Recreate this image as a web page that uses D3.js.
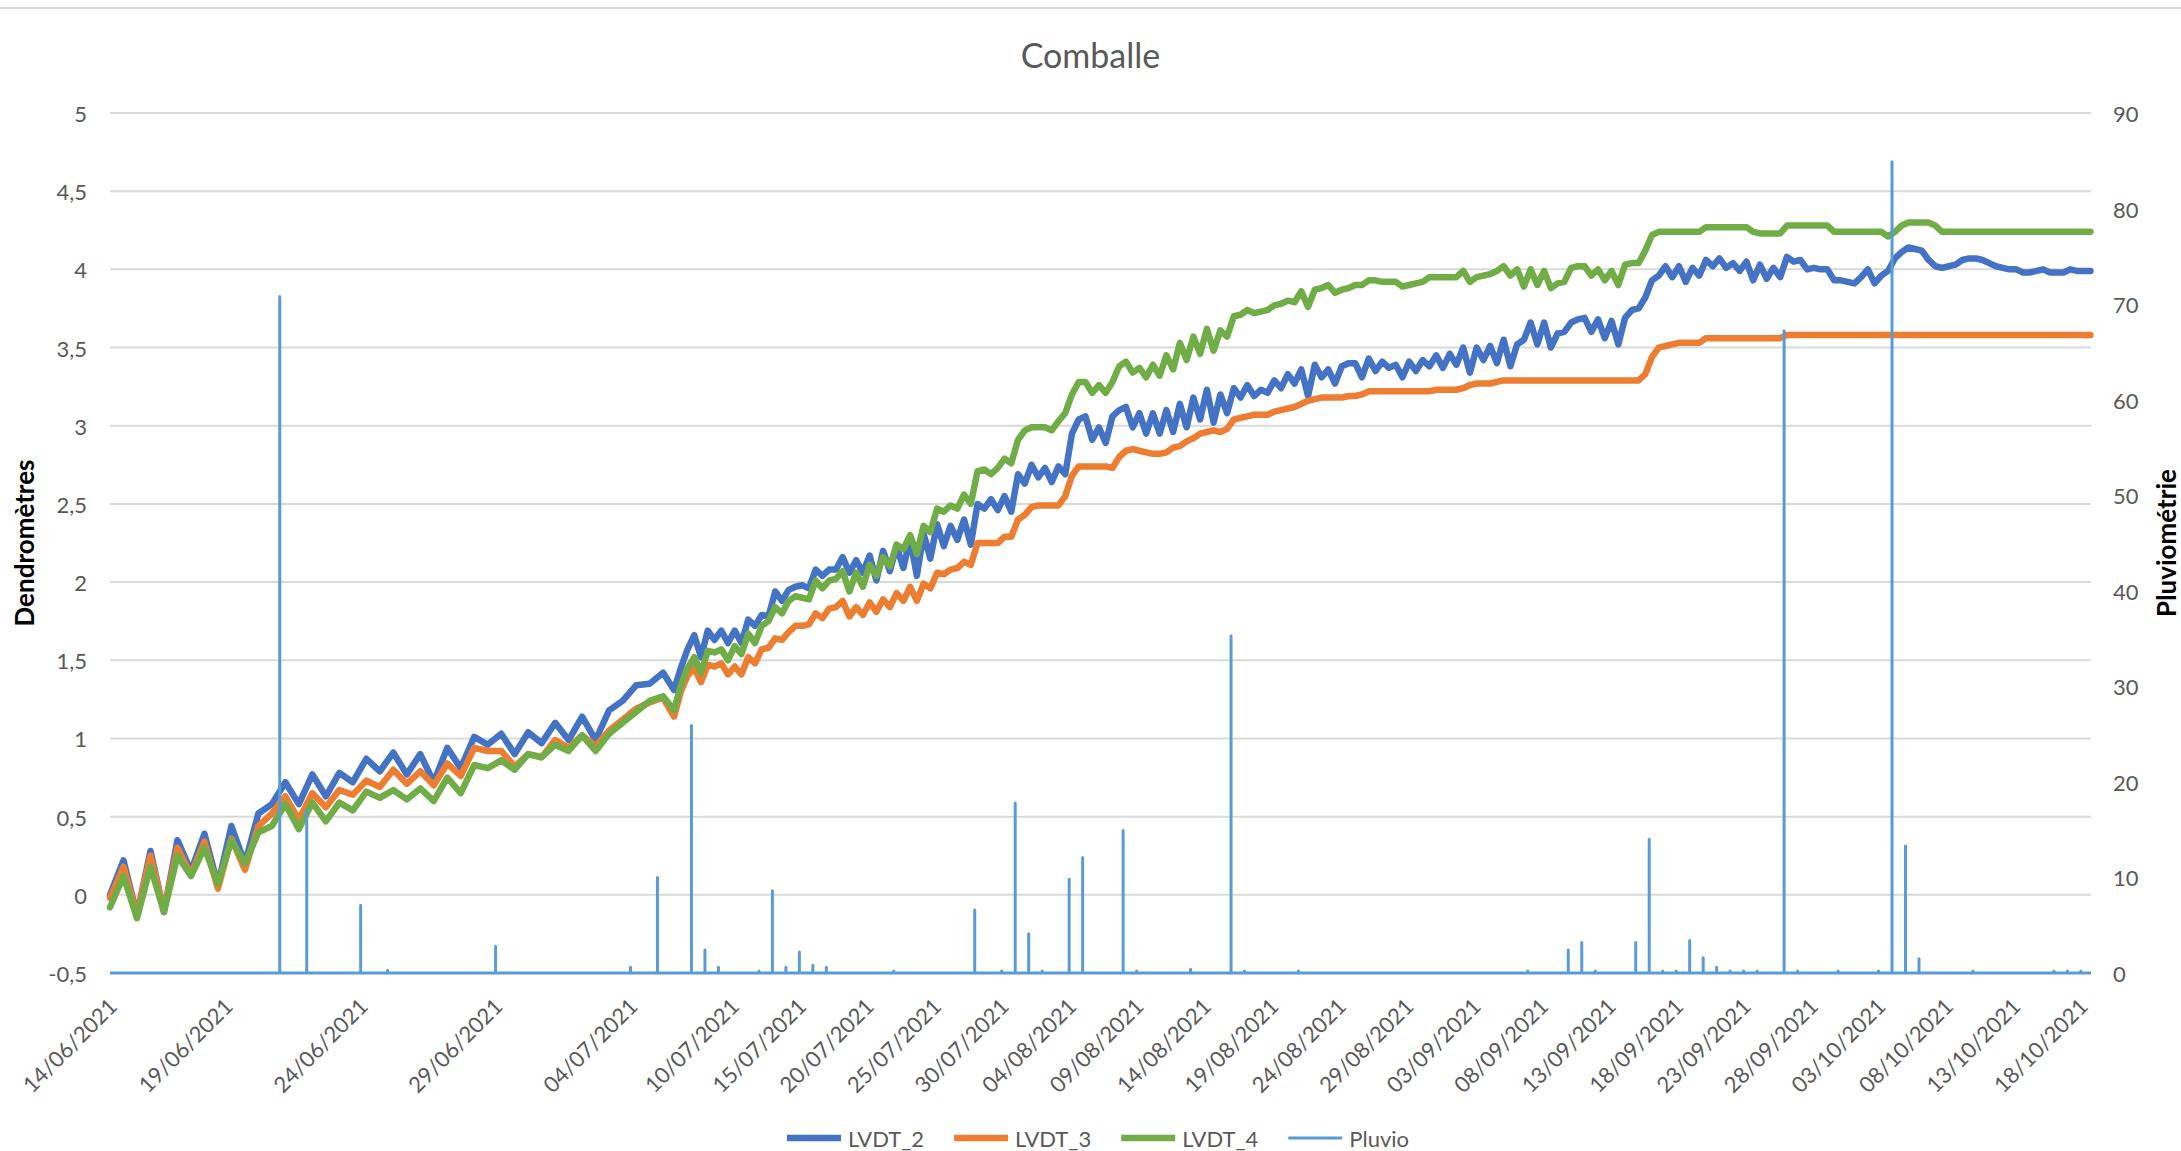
<!DOCTYPE html>
<html lang="fr">
<head>
<meta charset="utf-8">
<title>Comballe</title>
<script src="https://cdn.jsdelivr.net/npm/d3@7"></script>
<style>
  html, body { margin: 0; padding: 0; background: #fff; }
  svg { display: block; font-family: Lato, 'Noto Sans', sans-serif; }
</style>
</head>
<body>
<div id="chart"></div>
<script>
// ─── Data ────────────────────────────────────────────────────────────────
// Dendrometer readings, one value every 12 h (≈05:00 max / 17:00 min)
const sampleStart = '14/06/2021 17:00';
const sampleStepHours = 12;
// logger switched from half-hourly to hourly records: category axis gets half as wide per day
const samplingChange = '05/07/2021 12:30';
const seriesEnd = '18/10/2021 18:00';

const lvdt2 = [
  0.00, 0.22, -0.13, 0.28, -0.11, 0.35, 0.15, 0.39, 0.06, 0.44,
  0.20, 0.52, 0.58, 0.72, 0.58, 0.77, 0.63, 0.78, 0.72, 0.87,
  0.79, 0.91, 0.77, 0.90, 0.72, 0.94, 0.81, 1.01, 0.96, 1.03,
  0.90, 1.04, 0.97, 1.10, 0.99, 1.14, 0.99, 1.18, 1.24, 1.34,
  1.35, 1.42, 1.31, 1.45, 1.57, 1.66, 1.52, 1.69, 1.63, 1.69,
  1.61, 1.69, 1.61, 1.76, 1.72, 1.79, 1.78, 1.94, 1.88, 1.95,
  1.97, 1.98, 1.96, 2.08, 2.04, 2.08, 2.08, 2.16, 2.06, 2.14,
  2.06, 2.17, 2.01, 2.20, 2.07, 2.23, 2.09, 2.28, 2.04, 2.31,
  2.15, 2.37, 2.23, 2.36, 2.27, 2.40, 2.24, 2.50, 2.47, 2.53,
  2.46, 2.55, 2.45, 2.69, 2.63, 2.75, 2.67, 2.73, 2.64, 2.74,
  2.69, 2.95, 3.04, 3.06, 2.91, 2.99, 2.89, 3.06, 3.10, 3.12,
  2.99, 3.08, 2.95, 3.08, 2.95, 3.10, 2.96, 3.14, 2.99, 3.18,
  3.04, 3.23, 3.02, 3.20, 3.08, 3.24, 3.18, 3.26, 3.19, 3.23,
  3.21, 3.29, 3.24, 3.33, 3.27, 3.36, 3.19, 3.39, 3.31, 3.36,
  3.27, 3.38, 3.40, 3.40, 3.31, 3.43, 3.35, 3.41, 3.37, 3.39,
  3.31, 3.41, 3.35, 3.42, 3.38, 3.45, 3.37, 3.46, 3.39, 3.50,
  3.34, 3.50, 3.42, 3.51, 3.40, 3.55, 3.38, 3.52, 3.55, 3.66,
  3.52, 3.66, 3.50, 3.59, 3.60, 3.66, 3.68, 3.69, 3.60, 3.68,
  3.56, 3.67, 3.52, 3.69, 3.74, 3.75, 3.82, 3.93, 3.96, 4.02,
  3.95, 4.02, 3.92, 4.01, 3.96, 4.06, 4.02, 4.07, 4.01, 4.04,
  3.99, 4.05, 3.93, 4.03, 3.94, 4.01, 3.95, 4.08, 4.05, 4.06,
  4.00, 4.01, 4.00, 4.00, 3.93, 3.93, 3.92, 3.91, 3.95, 4.00,
  3.91, 3.96, 3.99, 4.07, 4.11, 4.14, 4.13, 4.12, 4.06, 4.02,
  4.01, 4.02, 4.03, 4.06, 4.07, 4.07, 4.06, 4.04, 4.02, 4.01,
  4.00, 4.00, 3.98, 3.98, 3.99, 4.00, 3.98, 3.98, 3.98, 4.00,
  3.99, 3.99, 3.99
];

const lvdt3 = [
  -0.02, 0.18, -0.13, 0.25, -0.10, 0.30, 0.13, 0.34, 0.04, 0.36,
  0.16, 0.44, 0.52, 0.63, 0.48, 0.65, 0.56, 0.67, 0.64, 0.73,
  0.69, 0.80, 0.71, 0.79, 0.70, 0.84, 0.76, 0.94, 0.92, 0.92,
  0.82, 0.90, 0.88, 0.99, 0.94, 1.02, 0.95, 1.05, 1.12, 1.19,
  1.23, 1.26, 1.14, 1.30, 1.40, 1.45, 1.36, 1.47, 1.46, 1.48,
  1.41, 1.46, 1.41, 1.52, 1.48, 1.57, 1.58, 1.64, 1.63, 1.68,
  1.72, 1.72, 1.73, 1.80, 1.77, 1.83, 1.84, 1.88, 1.78, 1.84,
  1.79, 1.87, 1.81, 1.89, 1.84, 1.93, 1.88, 1.97, 1.88, 1.99,
  1.96, 2.06, 2.05, 2.08, 2.09, 2.13, 2.11, 2.25, 2.25, 2.25,
  2.25, 2.29, 2.29, 2.40, 2.43, 2.48, 2.49, 2.49, 2.49, 2.49,
  2.55, 2.68, 2.74, 2.74, 2.74, 2.74, 2.74, 2.73, 2.80, 2.84,
  2.85, 2.84, 2.83, 2.82, 2.82, 2.83, 2.86, 2.87, 2.90, 2.92,
  2.95, 2.96, 2.97, 2.96, 2.98, 3.04, 3.05, 3.06, 3.07, 3.07,
  3.07, 3.09, 3.10, 3.11, 3.12, 3.14, 3.16, 3.17, 3.18, 3.18,
  3.18, 3.18, 3.19, 3.19, 3.20, 3.22, 3.22, 3.22, 3.22, 3.22,
  3.22, 3.22, 3.22, 3.22, 3.22, 3.23, 3.23, 3.23, 3.23, 3.24,
  3.26, 3.27, 3.27, 3.27, 3.28, 3.29, 3.29, 3.29, 3.29, 3.29,
  3.29, 3.29, 3.29, 3.29, 3.29, 3.29, 3.29, 3.29, 3.29, 3.29,
  3.29, 3.29, 3.29, 3.29, 3.29, 3.29, 3.33, 3.44, 3.50, 3.51,
  3.52, 3.53, 3.53, 3.53, 3.53, 3.56, 3.56, 3.56, 3.56, 3.56,
  3.56, 3.56, 3.56, 3.56, 3.56, 3.56, 3.56, 3.58, 3.58, 3.58,
  3.58, 3.58, 3.58, 3.58, 3.58, 3.58, 3.58, 3.58, 3.58, 3.58,
  3.58, 3.58, 3.58, 3.58, 3.58, 3.58, 3.58, 3.58, 3.58, 3.58,
  3.58, 3.58, 3.58, 3.58, 3.58, 3.58, 3.58, 3.58, 3.58, 3.58,
  3.58, 3.58, 3.58, 3.58, 3.58, 3.58, 3.58, 3.58, 3.58, 3.58,
  3.58, 3.58, 3.58
];

const lvdt4 = [
  -0.08, 0.12, -0.15, 0.18, -0.11, 0.25, 0.12, 0.30, 0.07, 0.35,
  0.20, 0.40, 0.44, 0.58, 0.42, 0.59, 0.47, 0.59, 0.54, 0.66,
  0.62, 0.67, 0.61, 0.68, 0.60, 0.75, 0.65, 0.83, 0.81, 0.86,
  0.80, 0.90, 0.88, 0.96, 0.92, 1.02, 0.92, 1.03, 1.10, 1.17,
  1.24, 1.27, 1.18, 1.34, 1.45, 1.52, 1.42, 1.56, 1.55, 1.57,
  1.50, 1.59, 1.54, 1.67, 1.61, 1.72, 1.75, 1.84, 1.80, 1.88,
  1.91, 1.90, 1.89, 2.01, 1.96, 2.01, 2.02, 2.07, 1.94, 2.06,
  1.97, 2.11, 2.04, 2.16, 2.10, 2.24, 2.21, 2.30, 2.18, 2.36,
  2.32, 2.47, 2.45, 2.49, 2.47, 2.56, 2.50, 2.71, 2.72, 2.69,
  2.73, 2.79, 2.76, 2.91, 2.97, 2.99, 2.99, 2.99, 2.97, 3.03,
  3.08, 3.20, 3.28, 3.28, 3.21, 3.26, 3.21, 3.28, 3.38, 3.41,
  3.34, 3.37, 3.31, 3.39, 3.32, 3.45, 3.36, 3.53, 3.42, 3.57,
  3.46, 3.62, 3.48, 3.61, 3.57, 3.70, 3.71, 3.74, 3.72, 3.73,
  3.74, 3.77, 3.78, 3.80, 3.79, 3.86, 3.76, 3.87, 3.88, 3.90,
  3.85, 3.87, 3.88, 3.90, 3.90, 3.93, 3.93, 3.92, 3.92, 3.92,
  3.89, 3.90, 3.91, 3.92, 3.95, 3.95, 3.95, 3.95, 3.95, 3.99,
  3.92, 3.95, 3.96, 3.97, 3.99, 4.02, 3.96, 4.00, 3.89, 4.00,
  3.90, 3.99, 3.88, 3.91, 3.92, 4.01, 4.02, 4.02, 3.96, 4.00,
  3.93, 3.99, 3.90, 4.03, 4.04, 4.04, 4.12, 4.22, 4.24, 4.24,
  4.24, 4.24, 4.24, 4.24, 4.24, 4.27, 4.27, 4.27, 4.27, 4.27,
  4.27, 4.27, 4.24, 4.23, 4.23, 4.23, 4.23, 4.28, 4.28, 4.28,
  4.28, 4.28, 4.28, 4.28, 4.24, 4.24, 4.24, 4.24, 4.24, 4.24,
  4.24, 4.24, 4.21, 4.24, 4.28, 4.30, 4.30, 4.30, 4.30, 4.28,
  4.24, 4.24, 4.24, 4.24, 4.24, 4.24, 4.24, 4.24, 4.24, 4.24,
  4.24, 4.24, 4.24, 4.24, 4.24, 4.24, 4.24, 4.24, 4.24, 4.24,
  4.24, 4.24, 4.24
];

// Daily rain (mm), booked at 00:00; all other days are 0
const pluvioDates = [
  '21/06/2021', '22/06/2021', '24/06/2021', '25/06/2021', '29/06/2021', '04/07/2021',
  '05/07/2021', '07/07/2021', '08/07/2021', '09/07/2021', '12/07/2021', '13/07/2021',
  '14/07/2021', '15/07/2021', '16/07/2021', '17/07/2021', '22/07/2021', '28/07/2021',
  '30/07/2021', '31/07/2021', '01/08/2021', '02/08/2021', '04/08/2021', '05/08/2021',
  '08/08/2021', '09/08/2021', '13/08/2021', '16/08/2021', '17/08/2021', '21/08/2021',
  '07/09/2021', '10/09/2021', '11/09/2021', '12/09/2021', '15/09/2021', '16/09/2021',
  '17/09/2021', '18/09/2021', '19/09/2021', '20/09/2021', '21/09/2021', '22/09/2021',
  '23/09/2021', '24/09/2021', '26/09/2021', '27/09/2021', '30/09/2021', '03/10/2021',
  '04/10/2021', '05/10/2021', '06/10/2021', '10/10/2021', '16/10/2021', '17/10/2021',
  '18/10/2021'
];
const pluvioMm = [
  70.8, 17.0, 7.1, 0.3, 2.8, 0.6,
  10.0, 25.9, 2.4, 0.6, 0.2, 8.6,
  0.6, 2.2, 0.8, 0.6, 0.2, 6.6,
  0.2, 17.8, 4.1, 0.2, 9.8, 12.1,
  14.9, 0.2, 0.4, 35.3, 0.2, 0.2,
  0.2, 2.4, 3.2, 0.2, 3.2, 14.0,
  0.2, 0.2, 3.4, 1.6, 0.6, 0.2,
  0.2, 0.2, 67.2, 0.2, 0.2, 0.2,
  84.9, 13.3, 1.5, 0.2, 0.2, 0.2,
  0.2
];

const xTicks = [
  '14/06/2021 17:00', '19/06/2021 00:00', '24/06/2021 00:00', '29/06/2021 00:00',
  '04/07/2021 00:00', '10/07/2021 00:00', '15/07/2021 00:00', '20/07/2021 00:00',
  '25/07/2021 00:00', '30/07/2021 00:00', '04/08/2021 00:00', '09/08/2021 00:00',
  '14/08/2021 00:00', '19/08/2021 00:00', '24/08/2021 00:00', '29/08/2021 00:00',
  '03/09/2021 00:00', '08/09/2021 00:00', '13/09/2021 00:00', '18/09/2021 00:00',
  '23/09/2021 00:00', '28/09/2021 00:00', '03/10/2021 00:00', '08/10/2021 00:00',
  '13/10/2021 00:00', '18/10/2021 00:00'
];
const yLeftTicks = [-0.5, 0, 0.5, 1, 1.5, 2, 2.5, 3, 3.5, 4, 4.5, 5];
const yRightTicks = [0, 10, 20, 30, 40, 50, 60, 70, 80, 90];

const series = [
  { name: 'LVDT_2', values: lvdt2, color: '#4472C4' },
  { name: 'LVDT_3', values: lvdt3, color: '#ED7D31' },
  { name: 'LVDT_4', values: lvdt4, color: '#70AD47' }
];
const pluvioColor = '#5B9BD5';

// ─── Layout ──────────────────────────────────────────────────────────────
const W = 2181, H = 1151;
const margin = { top: 113, right: 90, bottom: 178, left: 110 };
const plotL = margin.left, plotR = W - margin.right;
const plotT = margin.top, plotB = H - margin.bottom;
const textGrey = '#595959';
const gridGrey = '#D9D9D9';
const dendroWidth = 6.5;
const pluvioWidth = 3;

const parseTime = d3.timeParse('%d/%m/%Y %H:%M');
const parseDay = d3.timeParse('%d/%m/%Y');
const fmtDay = d3.timeFormat('%d/%m/%Y');
const fmtComma = d => String(d).replace('.', ',');

const tStart = parseTime(sampleStart);
const tSwitch = parseTime(samplingChange);
const tEnd = parseTime(seriesEnd);
const sampleTimes = lvdt2.map((_, i) => d3.timeHour.offset(tStart, i * sampleStepHours));

// Excel plots by category, so half-hourly days take twice the width of hourly days
const earlyDays = (tSwitch - tStart) / 864e5;
const lateDays = (tEnd - tSwitch) / 864e5;
const pxPerUnit = (plotR - plotL) / (2 * earlyDays + lateDays);
const xScale = d3.scaleTime()
  .domain([tStart, tSwitch, tEnd])
  .range([plotL, plotL + 2 * earlyDays * pxPerUnit, plotR]);

const yLeft = d3.scaleLinear().domain([-0.5, 5]).range([plotB, plotT]);
const yRight = d3.scaleLinear().domain([0, 90]).range([plotB, plotT]);

const svg = d3.select('#chart').append('svg')
  .attr('width', W).attr('height', H)
  .style('background', '#fff');

// chart border (only the top edge shows in the capture)
svg.append('line')
  .attr('x1', 0).attr('x2', W).attr('y1', 8).attr('y2', 8)
  .attr('stroke', gridGrey).attr('stroke-width', 2);

// Title
svg.append('text')
  .attr('x', W / 2).attr('y', 68)
  .attr('text-anchor', 'middle')
  .attr('fill', textGrey).attr('font-size', 34)
  .text('Comballe');

// Gridlines
svg.append('g')
  .selectAll('line')
  .data(yLeftTicks)
  .join('line')
  .attr('x1', plotL).attr('x2', plotR)
  .attr('y1', d => yLeft(d)).attr('y2', d => yLeft(d))
  .attr('stroke', gridGrey).attr('stroke-width', 2);

// ─── Axes ────────────────────────────────────────────────────────────────
function styleAxis(g) {
  g.select('.domain').remove();
  g.selectAll('.tick line').remove();
  g.selectAll('text')
    .attr('fill', textGrey)
    .attr('font-size', 22)
    .attr('font-family', 'Lato, "Noto Sans", sans-serif');
}

svg.append('g')
  .attr('transform', `translate(${plotL},0)`)
  .call(d3.axisLeft(yLeft).tickValues(yLeftTicks).tickFormat(fmtComma).tickSize(0).tickPadding(23))
  .call(styleAxis)
  .call(g => g.selectAll('text').attr('dy', null).attr('dominant-baseline', 'central'));

svg.append('g')
  .attr('transform', `translate(${plotR},0)`)
  .call(d3.axisRight(yRight).tickValues(yRightTicks).tickSize(0).tickPadding(22))
  .call(styleAxis)
  .call(g => g.selectAll('text').attr('dy', null).attr('dominant-baseline', 'central'));

svg.append('g')
  .attr('transform', `translate(0,${plotB})`)
  .call(d3.axisBottom(xScale).tickValues(xTicks.map(parseTime)).tickFormat(fmtDay).tickSize(0))
  .call(styleAxis)
  .call(g => g.selectAll('text')
    .attr('x', null).attr('y', null).attr('dy', null)
    .attr('text-anchor', 'end')
    .attr('dominant-baseline', 'central')
    .attr('transform', 'translate(2,29) rotate(-45)'));

// Axis titles
svg.append('text')
  .attr('transform', `translate(24,${(plotT + plotB) / 2}) rotate(-90)`)
  .attr('text-anchor', 'middle').attr('dominant-baseline', 'central')
  .attr('font-size', 26).attr('font-weight', 'bold').attr('fill', '#000')
  .text('Dendromètres');

svg.append('text')
  .attr('transform', `translate(2166,${(plotT + plotB) / 2}) rotate(-90)`)
  .attr('text-anchor', 'middle').attr('dominant-baseline', 'central')
  .attr('font-size', 26).attr('font-weight', 'bold').attr('fill', '#000')
  .text('Pluviométrie');

// ─── Series ──────────────────────────────────────────────────────────────
const dendroLine = d3.line()
  .x(d => xScale(d.t))
  .y(d => yLeft(d.v));

series.forEach(s => {
  svg.append('path')
    .datum(s.values.map((v, i) => ({ t: sampleTimes[i], v })))
    .attr('fill', 'none')
    .attr('stroke', s.color)
    .attr('stroke-width', dendroWidth)
    .attr('stroke-linejoin', 'round')
    .attr('stroke-linecap', 'round')
    .attr('d', dendroLine);
});

// Rain: zero baseline with one narrow spike per rainy day
const pluvioPts = [{ t: tStart, v: 0 }];
pluvioDates.forEach((d, i) => {
  const t = parseDay(d);
  pluvioPts.push({ t, v: 0 }, { t, v: pluvioMm[i] }, { t, v: 0 });
});
pluvioPts.push({ t: tEnd, v: 0 });

svg.append('path')
  .datum(pluvioPts)
  .attr('fill', 'none')
  .attr('stroke', pluvioColor)
  .attr('stroke-width', pluvioWidth)
  .attr('stroke-linejoin', 'round')
  .attr('d', d3.line().x(d => xScale(d.t)).y(d => yRight(d.v)));

// ─── Legend ──────────────────────────────────────────────────────────────
const legendItems = [
  ...series.map(s => ({ name: s.name, color: s.color, width: dendroWidth })),
  { name: 'Pluvio', color: pluvioColor, width: pluvioWidth }
];
const legend = svg.append('g');
let cursor = 0;
legendItems.forEach(item => {
  const g = legend.append('g').attr('transform', `translate(${cursor},0)`);
  g.append('line')
    .attr('x1', 0).attr('x2', 54).attr('y1', 0).attr('y2', 0)
    .attr('stroke', item.color).attr('stroke-width', item.width);
  const t = g.append('text')
    .attr('x', 61).attr('y', 0)
    .attr('dominant-baseline', 'central')
    .attr('fill', textGrey).attr('font-size', 22)
    .text(item.name);
  cursor += 61 + t.node().getComputedTextLength() + 30;
});
const legendWidth = cursor - 30;
legend.attr('transform', `translate(${1098 - legendWidth / 2},1138)`);
</script>
</body>
</html>
